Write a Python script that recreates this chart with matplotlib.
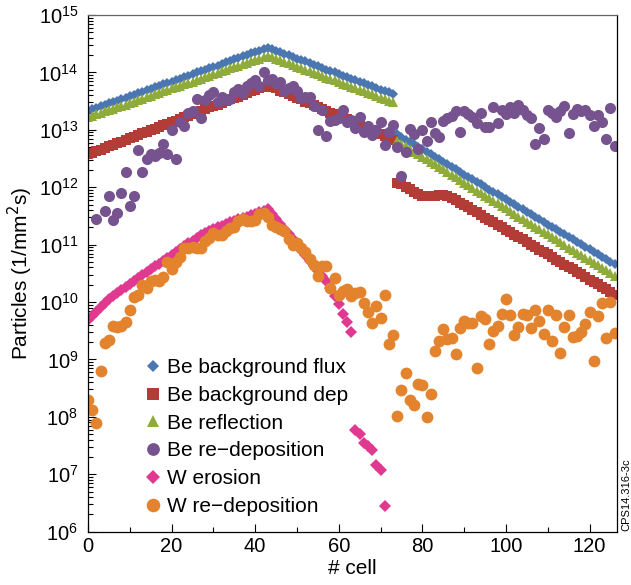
import numpy as np
import matplotlib
matplotlib.use("Agg")
import matplotlib.pyplot as plt
from matplotlib.ticker import LogLocator, MultipleLocator, NullFormatter

plt.rcParams['font.family'] = ['Liberation Sans', 'DejaVu Sans']

nan = np.nan
cells = np.arange(127)

# log10 of particle flux (1/mm^2 s), one value per cell
bg_flux_exp = [
    13.33, 13.36, 13.38, 13.41, 13.43, 13.46, 13.48, 13.51, 13.53, 13.56,
    13.59, 13.61, 13.64, 13.66, 13.69, 13.71, 13.74, 13.77, 13.79, 13.82,
    13.84, 13.87, 13.89, 13.92, 13.94, 13.97, 14.00, 14.02, 14.05, 14.07,
    14.10, 14.12, 14.15, 14.18, 14.20, 14.23, 14.25, 14.28, 14.30, 14.33,
    14.35, 14.38, 14.41, 14.43, 14.40, 14.38, 14.35, 14.32, 14.30, 14.27,
    14.24, 14.21, 14.19, 14.16, 14.13, 14.11, 14.08, 14.05, 14.03, 14.00,
    13.97, 13.94, 13.92, 13.89, 13.86, 13.84, 13.81, 13.78, 13.76, 13.73,
    13.70, 13.67, 13.65, 13.62, 12.92, 12.88, 12.83, 12.79, 12.75, 12.70,
    12.66, 12.62, 12.57, 12.53, 12.49, 12.44, 12.40, 12.35, 12.31, 12.27,
    12.22, 12.18, 12.14, 12.09, 12.05, 12.01, 11.96, 11.92, 11.88, 11.83,
    11.79, 11.75, 11.70, 11.66, 11.62, 11.57, 11.53, 11.48, 11.44, 11.40,
    11.35, 11.31, 11.27, 11.22, 11.18, 11.14, 11.09, 11.05, 11.01, 10.96,
    10.92, 10.88, 10.83, 10.79, 10.75, 10.70, 10.66]

bg_dep_exp = [
    12.57, 12.60, 12.63, 12.65, 12.68, 12.71, 12.74, 12.77, 12.79, 12.82,
    12.85, 12.88, 12.91, 12.94, 12.96, 12.99, 13.02, 13.05, 13.08, 13.10,
    13.13, 13.16, 13.19, 13.22, 13.24, 13.27, 13.30, 13.33, 13.36, 13.39,
    13.41, 13.44, 13.47, 13.50, 13.53, 13.55, 13.58, 13.61, 13.64, 13.67,
    13.69, 13.72, 13.75, 13.78, 13.75, 13.72, 13.68, 13.65, 13.62, 13.59,
    13.56, 13.53, 13.49, 13.46, 13.43, 13.40, 13.37, 13.33, 13.30, 13.27,
    13.24, 13.21, 13.18, 13.14, 13.11, 13.08, 13.05, 13.02, 12.99, 12.95,
    12.92, 12.89, 12.86, 12.83, 12.08, 12.05, 12.01, 11.97, 11.92, 11.88,
    11.85, 11.84, 11.84, 11.85, 11.86, 11.86, 11.85, 11.82, 11.78, 11.73,
    11.69, 11.65, 11.60, 11.56, 11.52, 11.47, 11.43, 11.39, 11.35, 11.30,
    11.26, 11.22, 11.17, 11.13, 11.09, 11.04, 11.00, 10.96, 10.91, 10.87,
    10.83, 10.78, 10.74, 10.70, 10.65, 10.61, 10.57, 10.52, 10.48, 10.44,
    10.39, 10.35, 10.31, 10.26, 10.22, 10.18, 10.13]

reflection_exp = [
    13.22, 13.24, 13.27, 13.29, 13.32, 13.34, 13.37, 13.39, 13.42, 13.44,
    13.47, 13.49, 13.52, 13.54, 13.57, 13.59, 13.62, 13.64, 13.67, 13.69,
    13.72, 13.74, 13.77, 13.79, 13.82, 13.84, 13.87, 13.89, 13.92, 13.94,
    13.97, 13.99, 14.02, 14.04, 14.07, 14.09, 14.12, 14.14, 14.17, 14.19,
    14.22, 14.24, 14.27, 14.29, 14.26, 14.24, 14.21, 14.18, 14.16, 14.13,
    14.10, 14.07, 14.05, 14.02, 13.99, 13.97, 13.94, 13.91, 13.89, 13.86,
    13.83, 13.80, 13.78, 13.75, 13.72, 13.70, 13.67, 13.64, 13.62, 13.59,
    13.56, 13.53, 13.51, 13.48, 12.80, 12.76, 12.71, 12.67, 12.62, 12.58,
    12.53, 12.49, 12.44, 12.40, 12.35, 12.31, 12.26, 12.22, 12.17, 12.13,
    12.08, 12.04, 11.99, 11.94, 11.90, 11.85, 11.81, 11.76, 11.72, 11.67,
    11.63, 11.58, 11.54, 11.49, 11.45, 11.40, 11.36, 11.31, 11.27, 11.22,
    11.18, 11.13, 11.09, 11.04, 11.00, 10.95, 10.91, 10.86, 10.82, 10.77,
    10.73, 10.68, 10.64, 10.59, 10.55, 10.50, 10.46]

be_redep_exp = [
    nan, nan, 11.45, nan, 11.58, 11.84, 11.43, 11.55, 11.90, 12.26,
    11.68, 11.85, 12.64, 12.26, 12.49, 12.58, 12.54, 12.59, 12.76, 12.58,
    12.99, 12.49, 13.13, 13.07, 13.29, 13.32, 13.53, 13.20, 13.52, 13.61,
    13.65, 13.49, 13.58, 13.53, 13.53, 13.65, 13.71, 13.64, 13.77, 13.82,
    13.86, 13.77, 14.01, 13.87, 13.88, 13.81, 13.84, 13.68, 13.73, 13.77,
    13.67, 13.55, 13.58, 13.58, 13.41, 12.99, 13.34, 12.90, 13.15, 13.17,
    13.20, 13.35, 13.14, 13.17, 13.03, 13.23, 12.97, 13.07, 12.91, 13.00,
    13.13, 12.74, 12.97, 13.09, 12.70, 12.19, 12.62, 13.01, 12.92, 12.66,
    13.00, 12.81, 13.14, 12.95, 12.87, 13.16, 13.20, 13.24, 13.33, 12.97,
    13.32, 13.28, 13.23, 13.12, 13.30, 13.05, 13.05, 13.40, 13.11, 13.35,
    13.27, 13.40, 13.30, 13.43, 13.34, 13.26, 13.20, 12.76, 13.03, 12.84,
    13.34, 13.29, 13.22, 13.32, 13.42, 12.95, 13.27, 13.36, 13.32, 13.34,
    13.26, 13.07, 13.26, 13.14, 12.84, 13.38, 12.72]

w_erosion_exp = [
    9.68, 9.76, 9.83, 9.91, 9.98, 10.05, 10.11, 10.16, 10.21, 10.26,
    10.31, 10.37, 10.42, 10.47, 10.52, 10.57, 10.62, 10.67, 10.72, 10.77,
    10.82, 10.87, 10.92, 10.97, 11.02, 11.07, 11.12, 11.16, 11.20, 11.24,
    11.27, 11.30, 11.33, 11.36, 11.39, 11.42, 11.44, 11.47, 11.49, 11.52,
    11.54, 11.57, 11.59, 11.62, 11.54, 11.45, 11.36, 11.27, 11.18, 11.09,
    11.00, 10.91, 10.82, 10.72, 10.63, 10.54, 10.45, 10.36, 10.24, 10.10,
    9.96, 9.80, 9.66, 9.48, 7.77, 7.71, 7.55, 7.49, 7.42, 7.17,
    7.08, 6.44] + [nan] * 55

w_redep_exp = [
    8.30, 8.12, 7.89, 8.80, 9.28, 9.34, 9.59, 9.57, 9.59, 9.65,
    9.87, 10.09, 10.13, 10.30, 10.25, 10.36, 10.39, 10.36, 10.44, 10.69,
    10.57, 10.69, 10.79, 10.94, 10.94, 10.96, 10.94, 10.94, 11.07, 11.11,
    11.21, 11.17, 11.17, 11.23, 11.29, 11.31, 11.41, 11.45, 11.42, 11.41,
    11.43, 11.54, 11.55, 11.48, 11.35, 11.31, 11.27, 11.23, 11.10, 11.00,
    11.03, 10.95, 10.88, 10.75, 10.65, 10.45, 10.62, 10.63, 10.25, 10.42,
    10.13, 10.19, 10.23, 10.10, 10.15, 10.18, 9.99, 9.82, 9.64, 9.93,
    9.72, 10.13, 9.27, 9.43, 8.01, 8.47, 8.76, 8.29, 8.21, 8.58,
    8.56, 8.00, 8.39, 9.14, 9.32, 9.53, 9.36, 9.38, 9.10, 9.54,
    9.67, 9.63, 9.64, 8.85, 9.75, 9.70, 9.27, 9.49, 9.59, 9.79,
    10.05, 9.77, 9.42, 9.57, 9.79, 9.77, 9.55, 9.87, 9.67, 9.45,
    9.87, 9.33, 9.78, 9.12, 9.57, 9.77, 9.39, 9.40, 9.48, 9.61,
    9.82, 8.97, 9.75, 9.99, 9.38, 10.00, 9.46]

labels = ["Be background flux", "Be background dep", "Be reflection",
          "Be re\u2212deposition", "W erosion", "W re\u2212deposition"]
colors = ["#4a76b2", "#b33c36", "#8fab3a", "#76538f", "#df3990", "#e3832e"]
markers = ["D", "s", "^", "o", "D", "o"]
sizes = [5.5, 7.5, 7.5, 8, 6.5, 8.5]
series = [bg_flux_exp, bg_dep_exp, reflection_exp, be_redep_exp,
          w_erosion_exp, w_redep_exp]

fig = plt.figure(figsize=(6.31, 5.85), dpi=100)
ax = fig.add_axes([0.1395, 0.0911, 0.8378, 0.8833])

for exp, lab, c, m, s in zip(series, labels, colors, markers, sizes):
    ax.plot(cells, 10.0 ** np.array(exp, dtype=float), linestyle="none",
            marker=m, markersize=s, color=c, markeredgewidth=0, label=lab)

ax.set_yscale("log")
ax.set_ylim(1e6, 1e15)
ax.set_xlim(0, 126.5)

ax.yaxis.set_major_locator(LogLocator(base=10, numticks=20))
ax.yaxis.set_minor_locator(LogLocator(base=10, subs=np.arange(2, 10), numticks=100))
ax.yaxis.set_minor_formatter(NullFormatter())
ax.xaxis.set_major_locator(MultipleLocator(20))
ax.xaxis.set_minor_locator(MultipleLocator(10))

ax.tick_params(axis="both", which="both", direction="in", top=False, right=False)
ax.tick_params(axis="both", which="major", length=6, width=0.8, labelsize=14.5)
ax.tick_params(axis="both", which="minor", length=3.5, width=0.8)
ax.tick_params(axis="y", which="major", pad=7)
ax.tick_params(axis="x", which="major", pad=4)

for side in ["left", "bottom", "right"]:
    ax.spines[side].set_color("black")
    ax.spines[side].set_linewidth(0.9)
ax.spines["top"].set_color("#666666")
ax.spines["top"].set_linewidth(0.9)

ax.set_xlabel("# cell", fontsize=15, labelpad=2)
fig.text(0.033, 0.5326, "Particles (1/mm$^2$s)", rotation=90, fontsize=15,
         ha="center", va="center")

ax.legend(loc="upper left", bbox_to_anchor=(0.0915, 0.352), frameon=False,
          fontsize=15, handlelength=0.8, handletextpad=0.27, labelspacing=0.42,
          markerscale=1.15, numpoints=1, borderaxespad=0)

fig.text(0.992, 0.092, "CPS14.316-3c", rotation=90, fontsize=8,
         ha="center", va="bottom")

fig.savefig("out.png", dpi=100)
